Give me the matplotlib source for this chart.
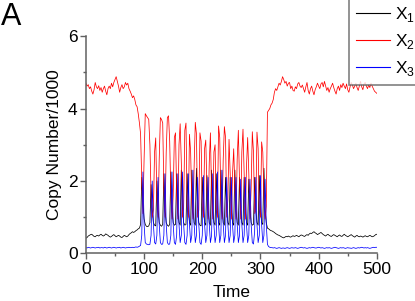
import numpy as np
import matplotlib
matplotlib.use("Agg")
import matplotlib.pyplot as plt

plt.rcParams['font.family'] = ['Liberation Sans', 'DejaVu Sans']

# sampling times (every 2 time units, 0..500)
time = np.arange(0, 501, 2)

# X1 copy number / 1000 (black)
x1 = [
    0.42, 0.44, 0.48, 0.50, 0.52, 0.53, 0.50, 0.47, 0.46, 0.49,
    0.50, 0.48, 0.51, 0.53, 0.50, 0.48, 0.50, 0.54, 0.52, 0.50,
    0.47, 0.45, 0.47, 0.50, 0.52, 0.49, 0.46, 0.48, 0.50, 0.48,
    0.45, 0.44, 0.47, 0.50, 0.48, 0.46, 0.48, 0.52, 0.55, 0.57,
    0.60, 0.58, 0.60, 0.63, 0.65, 0.68, 0.70, 0.80, 2.10, 1.40,
    0.95, 0.80, 0.75, 0.74, 0.76, 0.85, 1.90, 1.20, 0.85, 0.78,
    0.76, 2.00, 1.20, 0.85, 0.78, 0.75, 0.80, 2.20, 1.20, 0.85,
    0.78, 0.75, 0.80, 2.25, 1.20, 0.85, 0.78, 0.80, 2.20, 1.15,
    0.85, 0.78, 2.30, 1.20, 0.85, 0.78, 0.80, 2.20, 1.20, 0.85,
    0.78, 2.30, 1.20, 0.85, 0.78, 2.35, 1.20, 0.85, 0.78, 0.76,
    2.10, 1.20, 0.85, 0.78, 2.15, 1.20, 0.85, 0.78, 2.30, 1.20,
    0.85, 0.78, 2.20, 1.20, 0.85, 0.78, 2.30, 1.20, 0.85, 0.78,
    2.10, 1.20, 0.85, 0.78, 2.10, 1.20, 0.85, 0.78, 2.30, 1.20,
    0.85, 0.78, 2.10, 1.20, 0.85, 0.78, 2.10, 1.20, 0.85, 0.78,
    2.05, 1.20, 0.85, 0.78, 0.80, 2.10, 1.20, 0.85, 0.78, 2.15,
    1.20, 0.85, 0.80, 2.35, 1.20, 0.85, 0.70, 0.68, 0.65, 0.63,
    0.62, 0.60, 0.58, 0.55, 0.53, 0.51, 0.50, 0.48, 0.46, 0.44,
    0.43, 0.45, 0.47, 0.46, 0.48, 0.46, 0.45, 0.47, 0.49, 0.47,
    0.48, 0.50, 0.48, 0.46, 0.49, 0.51, 0.50, 0.48, 0.47, 0.50,
    0.52, 0.50, 0.54, 0.56, 0.55, 0.58, 0.60, 0.57, 0.55, 0.52,
    0.54, 0.56, 0.58, 0.55, 0.52, 0.50, 0.48, 0.51, 0.53, 0.50,
    0.48, 0.47, 0.50, 0.52, 0.50, 0.48, 0.46, 0.49, 0.51, 0.48,
    0.47, 0.50, 0.53, 0.50, 0.48, 0.46, 0.48, 0.50, 0.52, 0.49,
    0.47, 0.45, 0.48, 0.50, 0.47, 0.46, 0.48, 0.47, 0.45, 0.47,
    0.49, 0.47, 0.46, 0.48, 0.50, 0.48, 0.46, 0.47, 0.49, 0.52,
    0.53,
]

# X2 copy number / 1000 (red)
x2 = [
    4.70, 4.62, 4.66, 4.55, 4.60, 4.48, 4.40, 4.52, 4.72, 4.60,
    4.55, 4.63, 4.50, 4.58, 4.45, 4.55, 4.62, 4.48, 4.38, 4.55,
    4.62, 4.55, 4.70, 4.60, 4.72, 4.80, 4.88, 4.75, 4.62, 4.45,
    4.58, 4.66, 4.55, 4.60, 4.72, 4.65, 4.70, 4.55, 4.48, 4.40,
    4.30, 4.35, 4.25, 4.10, 4.05, 3.85, 3.60, 3.30, 2.00, 1.10,
    2.60, 3.86, 3.80, 3.75, 3.70, 3.00, 1.60, 1.00, 1.20, 2.80,
    3.19, 1.50, 1.00, 2.60, 3.75, 3.70, 3.60, 1.80, 1.00, 2.80,
    3.75, 3.80, 3.10, 1.60, 0.95, 1.60, 3.20, 3.33, 1.60, 0.95,
    3.00, 3.58, 2.50, 1.00, 1.30, 3.40, 3.60, 1.30, 1.00, 3.29,
    2.80, 1.40, 0.95, 2.40, 3.62, 3.30, 1.00, 1.20, 3.33, 3.10,
    1.30, 1.00, 2.90, 3.13, 1.80, 0.95, 2.50, 3.33, 1.60, 0.95,
    2.80, 3.00, 1.20, 1.00, 3.52, 3.20, 1.50, 0.95, 2.60, 3.50,
    3.20, 1.00, 1.50, 3.15, 2.20, 0.95, 2.20, 2.89, 1.80, 0.95,
    2.60, 3.40, 2.00, 0.95, 2.80, 3.43, 2.20, 0.95, 2.40, 3.20,
    2.20, 0.95, 1.80, 3.36, 2.80, 1.10, 1.20, 3.35, 2.90, 1.20,
    1.00, 3.08, 2.80, 1.60, 0.95, 1.30, 3.90, 3.95, 4.00, 4.10,
    4.15, 4.25, 4.45, 4.55, 4.50, 4.60, 4.70, 4.65, 4.75, 4.88,
    4.80, 4.70, 4.75, 4.62, 4.70, 4.72, 4.55, 4.62, 4.50, 4.48,
    4.60, 4.55, 4.68, 4.72, 4.62, 4.58, 4.65, 4.55, 4.45, 4.60,
    4.72, 4.50, 4.40, 4.55, 4.62, 4.48, 4.38, 4.52, 4.60, 4.70,
    4.62, 4.55, 4.68, 4.72, 4.60, 4.75, 4.62, 4.50, 4.58, 4.45,
    4.55, 4.62, 4.70, 4.58, 4.48, 4.40, 4.55, 4.62, 4.50, 4.66,
    4.58, 4.70, 4.62, 4.55, 4.68, 4.52, 4.45, 4.60, 4.72, 4.65,
    4.55, 4.62, 4.70, 4.58, 4.50, 4.62, 4.75, 4.60, 4.52, 4.68,
    4.72, 4.62, 4.55, 4.65, 4.58, 4.70, 4.62, 4.55, 4.48, 4.45,
    4.42,
]

# X3 copy number / 1000 (blue)
x3 = [
    0.16, 0.15, 0.17, 0.16, 0.15, 0.16, 0.17, 0.16, 0.15, 0.16,
    0.16, 0.17, 0.15, 0.16, 0.16, 0.15, 0.17, 0.16, 0.15, 0.16,
    0.17, 0.16, 0.15, 0.16, 0.17, 0.16, 0.15, 0.16, 0.16, 0.17,
    0.15, 0.16, 0.17, 0.16, 0.15, 0.16, 0.16, 0.17, 0.16, 0.16,
    0.17, 0.16, 0.17, 0.18, 0.17, 0.18, 0.20, 0.22, 0.50, 2.25,
    0.80, 0.30, 0.26, 0.25, 0.24, 0.25, 0.50, 2.00, 0.80, 0.30,
    0.26, 0.50, 2.10, 0.80, 0.30, 0.25, 0.26, 0.50, 2.20, 0.80,
    0.30, 0.25, 0.26, 0.50, 2.25, 0.80, 0.30, 0.25, 0.50, 2.20,
    0.80, 0.30, 0.50, 2.25, 0.80, 0.30, 0.25, 0.50, 2.20, 0.80,
    0.30, 0.50, 2.30, 0.80, 0.30, 0.50, 2.10, 0.80, 0.30, 0.25,
    0.50, 2.15, 0.80, 0.30, 0.50, 2.10, 0.80, 0.30, 0.50, 2.20,
    0.80, 0.30, 0.50, 2.25, 0.80, 0.30, 0.50, 2.30, 0.80, 0.30,
    0.50, 2.10, 0.80, 0.30, 0.50, 2.10, 0.80, 0.30, 0.50, 2.10,
    0.80, 0.30, 0.50, 2.05, 0.80, 0.30, 0.50, 2.10, 0.80, 0.30,
    0.50, 2.05, 0.80, 0.30, 0.26, 0.60, 2.10, 0.80, 0.30, 0.50,
    2.15, 0.80, 0.30, 0.50, 2.05, 0.80, 0.25, 0.19, 0.17, 0.16,
    0.16, 0.15, 0.16, 0.15, 0.14, 0.15, 0.16, 0.15, 0.14, 0.15,
    0.15, 0.14, 0.15, 0.16, 0.15, 0.14, 0.15, 0.16, 0.15, 0.15,
    0.16, 0.15, 0.14, 0.15, 0.16, 0.17, 0.16, 0.15, 0.16, 0.15,
    0.14, 0.15, 0.16, 0.15, 0.16, 0.17, 0.16, 0.15, 0.15, 0.16,
    0.17, 0.16, 0.15, 0.16, 0.15, 0.14, 0.15, 0.16, 0.15, 0.16,
    0.15, 0.14, 0.15, 0.16, 0.17, 0.16, 0.15, 0.14, 0.15, 0.16,
    0.15, 0.16, 0.15, 0.14, 0.15, 0.16, 0.15, 0.15, 0.14, 0.15,
    0.16, 0.15, 0.14, 0.15, 0.16, 0.15, 0.16, 0.17, 0.16, 0.15,
    0.16, 0.15, 0.16, 0.15, 0.14, 0.15, 0.16, 0.17, 0.16, 0.17,
    0.17,
]

labels = [r'X$_\mathregular{1}$', r'X$_\mathregular{2}$', r'X$_\mathregular{3}$']
colors = ['black', 'red', 'blue']

fig = plt.figure(figsize=(4.15, 3.01), dpi=100)
ax = fig.add_axes([0.207, 0.158, 0.701, 0.722])

for y, lab, c in zip([x1, x2, x3], labels, colors):
    ax.plot(time, y, color=c, linewidth=0.55, label=lab)

ax.set_xlim(0, 500)
ax.set_ylim(0, 6)
ax.set_xticks([0, 100, 200, 300, 400, 500])
ax.set_xticks([50, 150, 250, 350, 450], minor=True)
ax.set_yticks([0, 2, 4, 6])
ax.set_yticks([1, 3, 5], minor=True)

for side in ['top', 'right']:
    ax.spines[side].set_visible(False)
for side in ['left', 'bottom']:
    ax.spines[side].set_color('#606060')
    ax.spines[side].set_linewidth(1.1)

ax.tick_params(which='major', direction='out', length=4, width=1, color='#606060',
               labelsize=12.5, pad=2)
ax.tick_params(which='minor', direction='out', length=2.5, width=1, color='#606060')

ax.set_xlabel('Time', fontsize=12.5, labelpad=6)
ax.set_ylabel('Copy Number/1000', fontsize=12.5, labelpad=4)

fig.text(0.003, 0.893, 'A', fontsize=22, ha='left', va='bottom')

leg = fig.legend(loc='upper left', bbox_to_anchor=(0.840, 1.005), fontsize=12.5,
                 frameon=True, fancybox=False, handlelength=2.0, handletextpad=0.25,
                 borderpad=0.4, labelspacing=0.45, borderaxespad=0)
leg.get_frame().set_edgecolor('#606060')
leg.get_frame().set_linewidth(1.2)
for line in leg.get_lines():
    line.set_linewidth(0.8)

fig.savefig('out.png', dpi=100)
